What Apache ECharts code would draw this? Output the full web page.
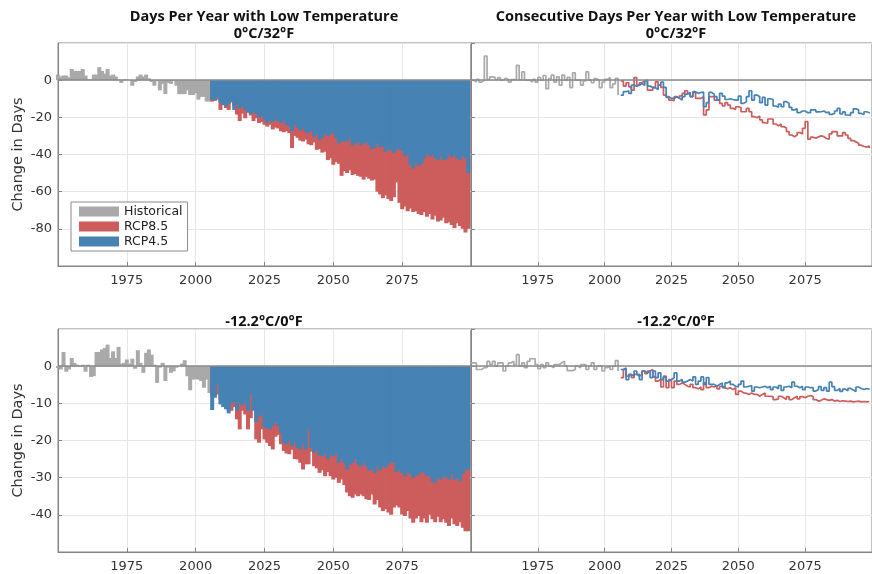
<!DOCTYPE html>
<html>
<head>
<meta charset="utf-8">
<title>Days Per Year with Low Temperature</title>
<script src="https://cdn.jsdelivr.net/npm/echarts@6/dist/echarts.min.js"></script>
<style>
  html, body { margin: 0; padding: 0; background: #fff; }
  #chart { width: 872px; height: 574px; }
</style>
</head>
<body>
<div id="chart"></div>
<script>
// Change in days per year with low temperature, historical vs RCP scenarios
const HIST_START = 1950
const PROJ_START = 2006

// ── 0°C/32°F, days per year (bars) ──
const histDays32 = [
  3, 2, 2.5, 2.5, 1.5, 6, 5, 5, 5, 6,
  2.5, 0.5, 0.5, 3, 3, 7, 5, 3.5, 6, 2.5,
  3, 2, 0.3, -1.5, 0.4, 0.4, 0, -3, -1, 2,
  3, 2, 3, 1, -1, -3, -0.5, -5.5, -2, -7.5,
  -1.5, -2, -0.5, -3, -7.5, -7.5, -7.5, -5.5, -8, -8,
  -7, -10.5, -9, -9, -11.5, -11.5
]
const rcp85Days32 = [
  -11.5, -11, -10.5, -16, -13, -15, -16, -12, -14, -18.5,
  -22, -18, -20.5, -17, -19, -22, -20.5, -23, -22.5, -24,
  -25, -24, -26.5, -25.5, -26, -27.5, -28, -27.5, -28.5, -36.5,
  -30, -31, -32.5, -33, -32, -34.5, -35, -33.5, -37.5, -37,
  -39, -38.5, -43, -42, -45.5, -44, -45, -51.5, -49, -50,
  -48.5, -51, -50.5, -51.5, -52, -53.5, -52, -53, -54, -53.5,
  -60, -61.5, -63.5, -62, -64, -65, -63, -55, -66, -69.5,
  -68, -70.5, -69, -71, -70.5, -72, -72.5, -71, -73.5, -72,
  -75, -73, -76, -75.5, -74, -77, -76.5, -78, -79.5, -77,
  -78.5, -80, -82, -80
]
const rcp45Days32 = [
  -10.5, -11, -9, -12, -13.5, -14, -13, -11.5, -16, -13,
  -15, -14, -16, -17.5, -18, -17.5, -18, -20, -19.5, -21,
  -23, -22, -22.5, -21, -22, -23, -22, -24, -25, -27.5,
  -24, -25.5, -27, -26, -28, -28.5, -27, -30.5, -29, -32,
  -31, -29, -30, -29, -28.5, -31, -34, -33, -32.5, -33,
  -31, -35, -34, -33, -35, -34, -33.5, -35, -37, -36.5,
  -34, -36, -35.5, -38.5, -37, -38, -39, -37, -37.5, -38,
  -41, -40, -45.5, -47.5, -44, -46, -45, -42, -39.5, -41,
  -40, -42, -43, -41, -43, -42.5, -40, -41.5, -40, -42,
  -43, -40.5, -42, -50
]

// ── -12.2°C/0°F, days per year (bars) ──
const histDays0 = [
  -0.5, -0.9, 3.8, -1.5, -0.9, 2.2, 0.9, 0.4, -0.2, 0.4,
  -1.5, 0.4, -2.9, -2.7, 3.8, 3.8, 4.5, 4.9, 5.8, 2.2,
  4, 2.2, 5.2, 0.7, 0.9, 1.8, 0.7, 2, -0.7, 4.3,
  0.9, -1.8, 3.6, 4.5, 3.1, 0.4, -4.5, -0.4, 0.9, -4,
  -0.4, -1.8, -1.4, -0.4, 0, 0.7, 1.6, -2.7, -6.5, -3.6,
  -3.5, -3.6, -4, -5.8, -3.6, -7.2
]
const rcp85Days0 = [
  -8, -7.7, -7.6, -9, -10, -11, -12, -12, -11, -14.3,
  -17, -12, -13, -17, -14, -11.6, -19.7, -20.6, -17, -19.7,
  -20.6, -21.5, -22.4, -19, -18.5, -21, -22.8, -23.5, -23.7, -22.5,
  -25, -25.1, -26, -27.8, -26.4, -26.4, -23, -26.9, -27.5, -28.7,
  -28, -29.6, -28.5, -29.6, -30.5, -30, -31.4, -30.5, -32, -34,
  -35, -35.4, -34.5, -35, -34.5, -35, -35.8, -36, -34.5, -37.2,
  -36, -38, -39, -38.5, -39.4, -40, -38, -37.5, -38, -39.9,
  -40.3, -39, -41, -42.1, -41, -40.3, -42, -41, -42.1, -40,
  -41.2, -42, -40.5, -42, -41.2, -42.1, -43, -41, -42.5, -43,
  -42, -43.5, -44.4, -44.4
]
const rcp45Days0 = [
  -11.8, -8.5, -5, -10.3, -11, -11.6, -12.7, -10, -9.5, -12,
  -10, -10.5, -10, -12, -7.5, -12, -15, -13.5, -13, -16.5,
  -16.6, -17, -16, -15, -16.1, -18, -20.6, -21, -20, -21.5,
  -20.5, -22, -22.4, -21, -22.4, -17, -22, -23.3, -22.5, -24,
  -24.2, -23.5, -25, -24, -24.2, -23.5, -26, -25, -26, -27.8,
  -26.5, -26, -25, -26.5, -27, -26, -26.9, -28, -27.8, -28.7,
  -27, -28, -27, -27.3, -26.5, -25.8, -26, -28.5, -28, -28.7,
  -29.6, -28.5, -29, -30, -29.5, -29.1, -28.5, -28.7, -29.5, -29.6,
  -31, -31.4, -30, -30.5, -29.5, -30, -30.5, -29, -30.5, -30,
  -31, -29, -28, -27.8
]

// ── 0°C/32°F, consecutive days (stairs) ──
const histRun32 = [
  0, -1, 0.5, -1, 0, 13, 0.5, 1.8, 1.5, 0.3,
  1.4, 0, 1, 0.5, -1, 0.3, 0.5, 8, 0.2, 4.5,
  0, 0, -1, 0.4, -1, 1.5, 0, 2.5, -4.5, 0.8,
  2.7, -1, 1.8, -2.7, 2.7, 0, 1.5, -4, 4, 0,
  0, -2.7, -0.4, 4.5, 0, -1.4, 0.8, 0, -4, -1,
  0.4, 1.4, -4, -2, 1, -8
]
const rcp85Run32 = [
  -0.4, -3.2, -1.4, -3.6, -5.4, 1.4, -2.7, -1.4, -0.4, 0,
  -5.4, -5.4, -3.9, -0.9, -2.7, -3.9, -8, -9.3, -10.7, -11,
  -8.9, -9.8, -8.4, -7.1, -5.7, -7.1, -8.9, -6.6, -9.8, -9.8,
  -8.9, -18.7, -16, -8.9, -8.9, -10.7, -10.7, -12.5, -13.9, -12.1,
  -13.4, -15.2, -15.7, -14.3, -14.8, -17, -17, -15.2, -17, -19.6,
  -20.2, -19.3, -21.4, -22.9, -23.2, -20.9, -21, -23.6, -24.6, -23.6,
  -25, -25.7, -27.7, -29.5, -30.4, -29.5, -28.2, -28.9, -25.9, -22.3,
  -31.8, -30.7, -31.3, -30.5, -30, -30.4, -31.4, -31.8, -28.9, -27.7,
  -27.7, -30, -30, -28.2, -29.5, -31.3, -32.5, -33.2, -33.9, -35,
  -35.7, -36, -35.5, -36.5
]
const rcp45Run32 = [
  -8, -6.2, -5.7, -7.1, -2.7, -3.2, -2.7, -1.8, -2.7, -0.4,
  -3.2, -3.9, -4.1, -5, -2.7, -1.1, -3.9, -8.9, -9.8, -9.8,
  -8.9, -9.8, -10.7, -8.9, -7.5, -6.6, -8.9, -6.2, -7.1, -6.6,
  -6.4, -14.3, -12.1, -6.6, -7.5, -8.9, -10.7, -7.1, -8.6, -10.4,
  -10, -10.4, -10.7, -10.7, -8.6, -12.5, -11.6, -8.9, -5.7, -10.7,
  -8, -8.9, -12.1, -9.3, -13.4, -10, -10.4, -13.9, -14.6, -12.9,
  -14.3, -11.6, -12.5, -14.6, -16, -15.4, -17.5, -16.6, -16.6, -17.5,
  -17.5, -16, -16, -17.1, -17, -16.6, -17.5, -17.1, -18.4, -17.9,
  -16.6, -15.2, -18.2, -17.1, -18.75, -18.9, -17.5, -15.4, -16, -17.9,
  -18.5, -17, -17.5, -18
]

// ── -12.2°C/0°F, consecutive days (stairs) ──
const histRun0 = [
  0.9, 0.9, -0.9, -0.9, -0.4, -0.4, 1.3, 0.4, 1.3, 0,
  0.9, 0.9, -1.3, 0, 0.9, 1.3, 0.4, 3.1, 0, 0.9,
  -0.4, 1.3, 2, 2, 0.4, -0.7, 0.4, -0.4, 0.9, 0,
  -0.4, 0.4, 0.4, 0.9, 1.3, 0, -1.2, -1.2, -0.9, 0,
  -0.4, 0.4, 0.4, -0.9, 0, 0.9, -0.9, 0, 0, -1.3,
  -0.4, 0, -0.9, 0, 1.5, -1.3
]
const rcp85Run0 = [
  -3.1, -0.9, -2.7, -2.2, -3.1, -2.2, -2.7, -2.2, -1.3, -2,
  -1.3, -0.9, -2.9, -4, -3.6, -5.6, -2.7, -5.8, -3.6, -5.8,
  -4, -4.9, -4.5, -4.9, -5.4, -5.6, -4.9, -5.8, -6.1, -5.6,
  -6.3, -4.5, -5.8, -5.4, -5.6, -5.2, -6.1, -5.4, -5.8, -6.1,
  -5.8, -6.3, -5.8, -7.6, -6.7, -7.2, -7.3, -7.6, -7.2, -7.6,
  -7.6, -8.1, -7.6, -7.2, -8.1, -8.1, -8.2, -9, -8.8, -8.1,
  -8.5, -9, -8.2, -9, -8.5, -8.1, -8.8, -8.2, -8.5, -8.1,
  -7.9, -8.2, -9, -9.4, -9.2, -8.8, -9, -9.2, -9, -9.4,
  -9.2, -9.5, -9.3, -9.4, -9.5, -9.4, -9.6, -9.5, -9.4, -9.6,
  -9.5, -9.6, -9.5, -9.6
]
const rcp45Run0 = [
  -0.9, -0.5, -3.6, -2.2, -2.7, -1.3, -2.2, -3.6, -1.3, -1.8,
  -1.3, -3.1, -1.3, -3.1, -1.8, -3.6, -2.9, -4, -3.6, -3.1,
  -1.8, -4, -3.6, -4.3, -4, -3.6, -4, -2.9, -4.9, -4,
  -2.9, -4.9, -3.1, -4.9, -4.9, -5.4, -4.9, -4.5, -5.8, -4.5,
  -4, -4.9, -5.4, -5.6, -4.9, -4, -5.6, -5.4, -5.2, -6.7,
  -5.6, -5.8, -5.6, -5.4, -5.8, -5.4, -6.3, -5.6, -6.1, -5.2,
  -6.5, -5.6, -5.4, -5.8, -4.3, -5.4, -5.8, -5.4, -6.3, -5.6,
  -5.8, -5.8, -6.7, -6.3, -5.5, -6.5, -5.8, -6.7, -4.3, -5.5,
  -6.5, -6, -6.8, -6.2, -6.6, -6, -6.4, -6.8, -5.6, -6,
  -6.3, -6, -6.2, -6
]

const titles = [
  'Days Per Year with Low Temperature\n0°C/32°F',
  'Consecutive Days Per Year with Low Temperature\n0°C/32°F',
  '-12.2°C/0°F',
  '-12.2°C/0°F'
]
const yRanges = [[-100, 20, 20], [-50, 10, 10]]

const GRAY = '#a9a9a9'
const RED = '#cd5c5c'
const BLUE = '#4682b4'
const AXIS = '#858585'
const GRID_LINE = '#e6e6e6'
const TEXT = '#333'
const FONT = '"DejaVu Sans", sans-serif'

const pairs = (start, arr) => arr.map((v, i) => [start + i, v])

// grid layout: left column, right column (right one runs past the canvas edge)
const grids = [
  { left: 58, top: 43, width: 413, height: 223 },
  { left: 471, top: 43, width: 414, height: 223 },
  { left: 58, top: 329, width: 413, height: 223 },
  { left: 471, top: 329, width: 414, height: 223 }
].map(g => ({ ...g, show: true, borderColor: AXIS, borderWidth: 1 }))

const xAxes = grids.map((_, i) => ({
  type: 'value',
  gridIndex: i,
  min: 1950,
  max: 2100,
  interval: 25,
  axisLine: { onZero: false, lineStyle: { color: AXIS } },
  axisTick: { inside: true, length: 4, lineStyle: { color: AXIS } },
  axisLabel: {
    showMinLabel: false, showMaxLabel: false,
    color: TEXT, fontSize: 13, fontFamily: FONT, margin: 8,
    formatter: v => String(v)
  },
  splitLine: { show: true, lineStyle: { color: GRID_LINE } }
}))

const yAxes = grids.map((_, i) => {
  const [min, max, interval] = yRanges[i < 2 ? 0 : 1]
  const isLeft = i % 2 === 0
  return {
    type: 'value',
    gridIndex: i,
    min, max, interval,
    axisLine: { show: true, onZero: false, lineStyle: { color: AXIS } },
    axisTick: { show: true, inside: true, length: 4, lineStyle: { color: AXIS } },
    axisLabel: { show: isLeft, showMinLabel: false, showMaxLabel: false, color: TEXT, fontSize: 13, fontFamily: FONT, margin: 6 },
    splitLine: { show: true, lineStyle: { color: GRID_LINE } },
    name: isLeft ? 'Change in Days' : '',
    nameLocation: 'middle',
    nameGap: 32,
    nameTextStyle: { color: TEXT, fontSize: 14.5, fontFamily: FONT }
  }
})

const zeroLine = {
  silent: true,
  symbol: 'none',
  label: { show: false },
  animation: false,
  lineStyle: { color: '#8a8a8a', width: 1.5, type: 'solid' },
  data: [{ yAxis: 0 }]
}

// bars overlap a little so no seams show between neighbouring years
function bar(name, color, start, values, gi, withZero) {
  return {
    type: 'bar', name,
    xAxisIndex: gi, yAxisIndex: gi,
    data: pairs(start, values),
    barWidth: 4,
    barGap: '-100%',
    itemStyle: { color },
    markLine: withZero ? zeroLine : undefined
  }
}

function stairs(name, color, start, values, gi, withZero) {
  return {
    type: 'line', name,
    xAxisIndex: gi, yAxisIndex: gi,
    data: pairs(start, values),
    step: 'end',
    symbol: 'none',
    lineStyle: { color, width: 1.7 },
    itemStyle: { color },
    markLine: withZero ? zeroLine : undefined
  }
}

const series = [
  bar('Historical', GRAY, HIST_START, histDays32, 0),
  bar('RCP8.5', RED, PROJ_START, rcp85Days32, 0),
  bar('RCP4.5', BLUE, PROJ_START, rcp45Days32, 0, true),
  stairs('Historical', GRAY, HIST_START, histRun32, 1, true),
  stairs('RCP8.5', RED, PROJ_START, rcp85Run32, 1),
  stairs('RCP4.5', BLUE, PROJ_START, rcp45Run32, 1),
  bar('Historical', GRAY, HIST_START, histDays0, 2),
  bar('RCP8.5', RED, PROJ_START, rcp85Days0, 2),
  bar('RCP4.5', BLUE, PROJ_START, rcp45Days0, 2, true),
  stairs('Historical', GRAY, HIST_START, histRun0, 3, true),
  stairs('RCP8.5', RED, PROJ_START, rcp85Run0, 3),
  stairs('RCP4.5', BLUE, PROJ_START, rcp45Run0, 3)
]

const titleCenters = [[264, 8], [676, 8], [264, 313], [676, 313]]

const chart = echarts.init(document.getElementById('chart'))
chart.setOption({
  animation: false,
  backgroundColor: '#fff',
  title: titles.map((t, i) => ({
    text: t,
    left: titleCenters[i][0],
    top: titleCenters[i][1],
    textAlign: 'center',
    padding: 0,
    textStyle: { fontSize: 14.5, fontWeight: 'bold', fontFamily: '"Open Sans", sans-serif', lineHeight: 17, color: '#111' }
  })),
  legend: {
    orient: 'vertical',
    left: 71,
    top: 202,
    data: ['Historical', 'RCP8.5', 'RCP4.5'],
    icon: 'rect',
    itemWidth: 40,
    itemHeight: 10,
    itemGap: 2,
    padding: [3, 5, 3, 8],
    backgroundColor: '#fff',
    borderColor: '#8a8a8a',
    borderWidth: 1,
    borderRadius: 0,
    textStyle: { color: '#222', fontSize: 12.5, fontFamily: FONT }
  },
  grid: grids,
  xAxis: xAxes,
  yAxis: yAxes,
  series
})
</script>
</body>
</html>
